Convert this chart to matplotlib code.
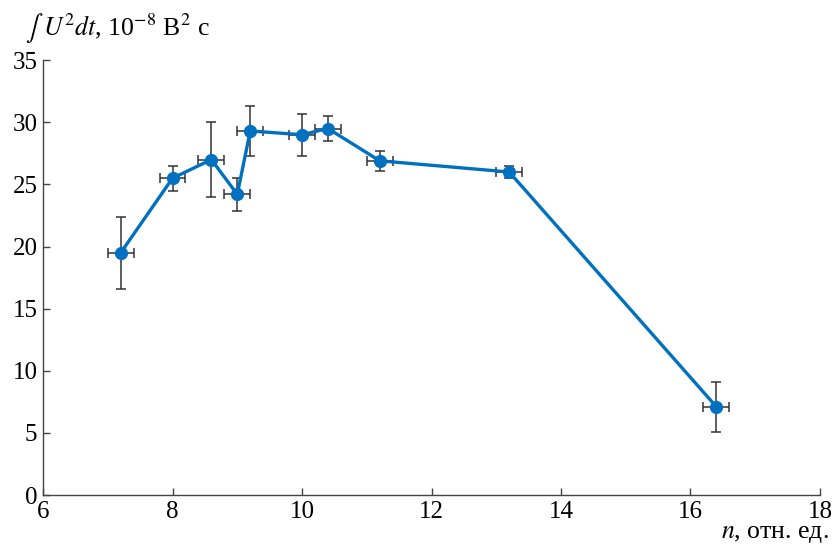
import matplotlib
matplotlib.use("Agg")
import matplotlib.pyplot as plt

n_vals = [7.2, 8.0, 8.6, 9.0, 9.2, 10.0, 10.4, 11.2, 13.2, 16.4]
u2_vals = [19.5, 25.5, 27.0, 24.2, 29.3, 29.0, 29.5, 26.9, 26.0, 7.1]
y_err = [2.9, 1.0, 3.0, 1.3, 2.0, 1.7, 1.0, 0.8, 0.5, 2.0]
x_err = [0.2, 0.2, 0.2, 0.2, 0.2, 0.2, 0.2, 0.2, 0.2, 0.2]
x_ticks = [6, 8, 10, 12, 14, 16, 18]
y_ticks = [0, 5, 10, 15, 20, 25, 30, 35]

plt.rcParams['font.family'] = ['Liberation Serif', 'DejaVu Serif']
plt.rcParams['mathtext.fontset'] = 'stix'

fig = plt.figure(figsize=(8.34, 5.47), dpi=100)
ax = fig.add_axes([0.0516, 0.095, 0.9316, 0.795])

ax.errorbar(n_vals, u2_vals, yerr=y_err, xerr=x_err, fmt='none',
            ecolor='#333333', elinewidth=1.1, capsize=3.5, capthick=1.1, zorder=2)
ax.plot(n_vals, u2_vals, '-', color='#0070C0', linewidth=2.4, zorder=3)
ax.plot(n_vals, u2_vals, 'o', color='#0070C0', markersize=8.5, zorder=4)

ax.set_xlim(6, 18)
ax.set_ylim(0, 35)
ax.set_xticks(x_ticks)
ax.set_yticks(y_ticks)
ax.spines['top'].set_visible(False)
ax.spines['right'].set_visible(False)
for s in ['left', 'bottom']:
    ax.spines[s].set_color('#444444')
    ax.spines[s].set_linewidth(1.0)
ax.tick_params(direction='in', length=5, width=1, color='#444444',
               labelsize=18, pad=4)

fig.text(0.030, 0.918, r"$\int\ U^2dt$, 10$^{-8}$ В$^2$ с", fontsize=18.5, ha='left', va='bottom')
fig.text(0.994, 0.003, r"$n$, отн. ед.", fontsize=18.5, ha='right', va='bottom')

fig.savefig('out.png', dpi=100)
